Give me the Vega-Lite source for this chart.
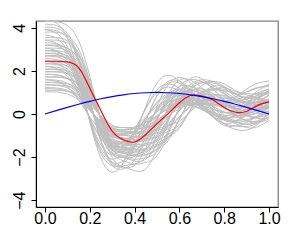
{
"$schema":"https://vega.github.io/schema/vega-lite/v6.json",
"width":242,"height":186,"autosize":"none",
"padding":{"left":36,"top":21,"right":11,"bottom":34},
"config":{"view":{"stroke":"#808080","strokeWidth":1.3},"font":"Liberation Sans"},
"datasets":{
"gray":[
{"c":1,"x":0,"y":4.41},{"c":1,"x":0.05,"y":4.23},{"c":1,"x":0.1,"y":3.51},{"c":1,"x":0.15,"y":1.8},{"c":1,"x":0.2,"y":-0.36},{"c":1,"x":0.25,"y":-2.07},{"c":1,"x":0.3,"y":-2.7},{"c":1,"x":0.35,"y":-2.25},{"c":1,"x":0.4,"y":-1.08},{"c":1,"x":0.45,"y":0.36},{"c":1,"x":0.5,"y":1.44},{"c":1,"x":0.55,"y":1.8},{"c":1,"x":0.6,"y":1.53},{"c":1,"x":0.65,"y":0.99},{"c":1,"x":0.7,"y":0.43},{"c":1,"x":0.75,"y":-0.01},{"c":1,"x":0.8,"y":-0.13},{"c":1,"x":0.85,"y":0.16},{"c":1,"x":0.9,"y":0.65},{"c":1,"x":0.95,"y":1.08},{"c":1,"x":1,"y":1.39},
{"c":2,"x":0,"y":4.17},{"c":2,"x":0.05,"y":4.11},{"c":2,"x":0.1,"y":3.74},{"c":2,"x":0.15,"y":2.64},{"c":2,"x":0.2,"y":0.68},{"c":2,"x":0.25,"y":-1.28},{"c":2,"x":0.3,"y":-2.38},{"c":2,"x":0.35,"y":-2.55},{"c":2,"x":0.4,"y":-2.13},{"c":2,"x":0.45,"y":-1.02},{"c":2,"x":0.5,"y":0.34},{"c":2,"x":0.55,"y":1.36},{"c":2,"x":0.6,"y":1.7},{"c":2,"x":0.65,"y":1.45},{"c":2,"x":0.7,"y":0.82},{"c":2,"x":0.75,"y":0.18},{"c":2,"x":0.8,"y":-0.28},{"c":2,"x":0.85,"y":-0.33},{"c":2,"x":0.9,"y":-0.06},{"c":2,"x":0.95,"y":0.44},{"c":2,"x":1,"y":0.91},
{"c":3,"x":0,"y":3.92},{"c":3,"x":0.05,"y":3.87},{"c":3,"x":0.1,"y":3.52},{"c":3,"x":0.15,"y":2.48},{"c":3,"x":0.2,"y":0.64},{"c":3,"x":0.25,"y":-1.2},{"c":3,"x":0.3,"y":-2.24},{"c":3,"x":0.35,"y":-2.4},{"c":3,"x":0.4,"y":-2.32},{"c":3,"x":0.45,"y":-2.0},{"c":3,"x":0.5,"y":-0.96},{"c":3,"x":0.55,"y":0.32},{"c":3,"x":0.6,"y":1.28},{"c":3,"x":0.65,"y":1.6},{"c":3,"x":0.7,"y":1.51},{"c":3,"x":0.75,"y":1.23},{"c":3,"x":0.8,"y":0.93},{"c":3,"x":0.85,"y":0.61},{"c":3,"x":0.9,"y":0.56},{"c":3,"x":0.95,"y":0.77},{"c":3,"x":1,"y":1.1},
{"c":4,"x":0,"y":3.8},{"c":4,"x":0.05,"y":3.8},{"c":4,"x":0.1,"y":3.64},{"c":4,"x":0.15,"y":3.02},{"c":4,"x":0.2,"y":1.55},{"c":4,"x":0.25,"y":-0.31},{"c":4,"x":0.3,"y":-1.78},{"c":4,"x":0.35,"y":-2.17},{"c":4,"x":0.4,"y":-2.33},{"c":4,"x":0.45,"y":-2.25},{"c":4,"x":0.5,"y":-1.94},{"c":4,"x":0.55,"y":-0.93},{"c":4,"x":0.6,"y":0.31},{"c":4,"x":0.65,"y":1.24},{"c":4,"x":0.7,"y":1.49},{"c":4,"x":0.75,"y":1.18},{"c":4,"x":0.8,"y":0.65},{"c":4,"x":0.85,"y":0.22},{"c":4,"x":0.9,"y":-0.09},{"c":4,"x":0.95,"y":-0.12},{"c":4,"x":1,"y":0.17},
{"c":5,"x":0,"y":3.68},{"c":5,"x":0.05,"y":3.53},{"c":5,"x":0.1,"y":2.93},{"c":5,"x":0.15,"y":1.5},{"c":5,"x":0.2,"y":-0.3},{"c":5,"x":0.25,"y":-1.73},{"c":5,"x":0.3,"y":-2.25},{"c":5,"x":0.35,"y":-2.18},{"c":5,"x":0.4,"y":-1.43},{"c":5,"x":0.45,"y":-0.3},{"c":5,"x":0.5,"y":0.83},{"c":5,"x":0.55,"y":1.43},{"c":5,"x":0.6,"y":1.43},{"c":5,"x":0.65,"y":1.05},{"c":5,"x":0.7,"y":0.6},{"c":5,"x":0.75,"y":0.23},{"c":5,"x":0.8,"y":0.05},{"c":5,"x":0.85,"y":0.15},{"c":5,"x":0.9,"y":0.5},{"c":5,"x":0.95,"y":0.9},{"c":5,"x":1,"y":1.17},
{"c":6,"x":0,"y":3.55},{"c":6,"x":0.05,"y":3.55},{"c":6,"x":0.1,"y":3.41},{"c":6,"x":0.15,"y":2.83},{"c":6,"x":0.2,"y":1.45},{"c":6,"x":0.25,"y":-0.29},{"c":6,"x":0.3,"y":-1.67},{"c":6,"x":0.35,"y":-2.03},{"c":6,"x":0.4,"y":-2.18},{"c":6,"x":0.45,"y":-2.1},{"c":6,"x":0.5,"y":-1.38},{"c":6,"x":0.55,"y":-0.29},{"c":6,"x":0.6,"y":0.8},{"c":6,"x":0.65,"y":1.38},{"c":6,"x":0.7,"y":1.59},{"c":6,"x":0.75,"y":1.51},{"c":6,"x":0.8,"y":1.28},{"c":6,"x":0.85,"y":0.92},{"c":6,"x":0.9,"y":0.74},{"c":6,"x":0.95,"y":0.78},{"c":6,"x":1,"y":0.97},
{"c":7,"x":0,"y":2.94},{"c":7,"x":0.05,"y":2.94},{"c":7,"x":0.1,"y":2.82},{"c":7,"x":0.15,"y":2.34},{"c":7,"x":0.2,"y":1.2},{"c":7,"x":0.25,"y":-0.24},{"c":7,"x":0.3,"y":-1.38},{"c":7,"x":0.35,"y":-1.68},{"c":7,"x":0.4,"y":-1.8},{"c":7,"x":0.45,"y":-1.74},{"c":7,"x":0.5,"y":-1.5},{"c":7,"x":0.55,"y":-1.14},{"c":7,"x":0.6,"y":-0.24},{"c":7,"x":0.65,"y":0.66},{"c":7,"x":0.7,"y":0.99},{"c":7,"x":0.75,"y":0.79},{"c":7,"x":0.8,"y":0.34},{"c":7,"x":0.85,"y":-0.02},{"c":7,"x":0.9,"y":-0.32},{"c":7,"x":0.95,"y":-0.41},{"c":7,"x":1,"y":-0.23},
{"c":8,"x":0,"y":3.31},{"c":8,"x":0.05,"y":3.27},{"c":8,"x":0.1,"y":2.97},{"c":8,"x":0.15,"y":2.09},{"c":8,"x":0.2,"y":0.54},{"c":8,"x":0.25,"y":-1.01},{"c":8,"x":0.3,"y":-1.89},{"c":8,"x":0.35,"y":-2.03},{"c":8,"x":0.4,"y":-1.96},{"c":8,"x":0.45,"y":-1.28},{"c":8,"x":0.5,"y":-0.27},{"c":8,"x":0.55,"y":0.74},{"c":8,"x":0.6,"y":1.28},{"c":8,"x":0.65,"y":1.28},{"c":8,"x":0.7,"y":1.04},{"c":8,"x":0.75,"y":0.75},{"c":8,"x":0.8,"y":0.5},{"c":8,"x":0.85,"y":0.34},{"c":8,"x":0.9,"y":0.44},{"c":8,"x":0.95,"y":0.72},{"c":8,"x":1,"y":1.02},
{"c":9,"x":0,"y":3.19},{"c":9,"x":0.05,"y":3.15},{"c":9,"x":0.1,"y":2.86},{"c":9,"x":0.15,"y":2.02},{"c":9,"x":0.2,"y":0.52},{"c":9,"x":0.25,"y":-0.98},{"c":9,"x":0.3,"y":-1.82},{"c":9,"x":0.35,"y":-1.95},{"c":9,"x":0.4,"y":-1.89},{"c":9,"x":0.45,"y":-1.63},{"c":9,"x":0.5,"y":-0.78},{"c":9,"x":0.55,"y":0.26},{"c":9,"x":0.6,"y":1.04},{"c":9,"x":0.65,"y":1.3},{"c":9,"x":0.7,"y":0.87},{"c":9,"x":0.75,"y":0.16},{"c":9,"x":0.8,"y":-0.45},{"c":9,"x":0.85,"y":-0.71},{"c":9,"x":0.9,"y":-0.75},{"c":9,"x":0.95,"y":-0.46},{"c":9,"x":1,"y":0.05},
{"c":10,"x":0,"y":3.06},{"c":10,"x":0.05,"y":2.94},{"c":10,"x":0.1,"y":2.44},{"c":10,"x":0.15,"y":1.25},{"c":10,"x":0.2,"y":-0.25},{"c":10,"x":0.25,"y":-1.44},{"c":10,"x":0.3,"y":-1.88},{"c":10,"x":0.35,"y":-1.56},{"c":10,"x":0.4,"y":-0.75},{"c":10,"x":0.45,"y":0.25},{"c":10,"x":0.5,"y":1.0},{"c":10,"x":0.55,"y":1.25},{"c":10,"x":0.6,"y":1.06},{"c":10,"x":0.65,"y":0.69},{"c":10,"x":0.7,"y":0.25},{"c":10,"x":0.75,"y":-0.12},{"c":10,"x":0.8,"y":-0.25},{"c":10,"x":0.85,"y":-0.05},{"c":10,"x":0.9,"y":0.29},{"c":10,"x":0.95,"y":0.61},{"c":10,"x":1,"y":0.85},
{"c":11,"x":0,"y":3.43},{"c":11,"x":0.05,"y":3.43},{"c":11,"x":0.1,"y":3.29},{"c":11,"x":0.15,"y":2.73},{"c":11,"x":0.2,"y":1.4},{"c":11,"x":0.25,"y":-0.28},{"c":11,"x":0.3,"y":-1.61},{"c":11,"x":0.35,"y":-1.96},{"c":11,"x":0.4,"y":-2.1},{"c":11,"x":0.45,"y":-2.03},{"c":11,"x":0.5,"y":-1.75},{"c":11,"x":0.55,"y":-0.84},{"c":11,"x":0.6,"y":0.28},{"c":11,"x":0.65,"y":1.12},{"c":11,"x":0.7,"y":1.46},{"c":11,"x":0.75,"y":1.33},{"c":11,"x":0.8,"y":0.97},{"c":11,"x":0.85,"y":0.58},{"c":11,"x":0.9,"y":0.3},{"c":11,"x":0.95,"y":0.24},{"c":11,"x":1,"y":0.42},
{"c":12,"x":0,"y":2.82},{"c":12,"x":0.05,"y":2.78},{"c":12,"x":0.1,"y":2.53},{"c":12,"x":0.15,"y":1.78},{"c":12,"x":0.2,"y":0.46},{"c":12,"x":0.25,"y":-0.86},{"c":12,"x":0.3,"y":-1.61},{"c":12,"x":0.35,"y":-1.73},{"c":12,"x":0.4,"y":-1.44},{"c":12,"x":0.45,"y":-0.69},{"c":12,"x":0.5,"y":0.23},{"c":12,"x":0.55,"y":0.92},{"c":12,"x":0.6,"y":1.15},{"c":12,"x":0.65,"y":0.98},{"c":12,"x":0.7,"y":0.78},{"c":12,"x":0.75,"y":0.66},{"c":12,"x":0.8,"y":0.58},{"c":12,"x":0.85,"y":0.55},{"c":12,"x":0.9,"y":0.73},{"c":12,"x":0.95,"y":0.99},{"c":12,"x":1,"y":1.16},
{"c":13,"x":0,"y":2.7},{"c":13,"x":0.05,"y":2.7},{"c":13,"x":0.1,"y":2.59},{"c":13,"x":0.15,"y":2.15},{"c":13,"x":0.2,"y":1.1},{"c":13,"x":0.25,"y":-0.22},{"c":13,"x":0.3,"y":-1.27},{"c":13,"x":0.35,"y":-1.54},{"c":13,"x":0.4,"y":-1.65},{"c":13,"x":0.45,"y":-1.6},{"c":13,"x":0.5,"y":-1.05},{"c":13,"x":0.55,"y":-0.22},{"c":13,"x":0.6,"y":0.61},{"c":13,"x":0.65,"y":1.05},{"c":13,"x":0.7,"y":0.9},{"c":13,"x":0.75,"y":0.42},{"c":13,"x":0.8,"y":-0.06},{"c":13,"x":0.85,"y":-0.33},{"c":13,"x":0.9,"y":-0.47},{"c":13,"x":0.95,"y":-0.34},{"c":13,"x":1,"y":0.01},
{"c":14,"x":0,"y":2.57},{"c":14,"x":0.05,"y":2.54},{"c":14,"x":0.1,"y":2.31},{"c":14,"x":0.15,"y":1.63},{"c":14,"x":0.2,"y":0.42},{"c":14,"x":0.25,"y":-0.79},{"c":14,"x":0.3,"y":-1.47},{"c":14,"x":0.35,"y":-1.58},{"c":14,"x":0.4,"y":-1.52},{"c":14,"x":0.45,"y":-1.0},{"c":14,"x":0.5,"y":-0.21},{"c":14,"x":0.55,"y":0.58},{"c":14,"x":0.6,"y":1.0},{"c":14,"x":0.65,"y":1.0},{"c":14,"x":0.7,"y":0.77},{"c":14,"x":0.75,"y":0.49},{"c":14,"x":0.8,"y":0.26},{"c":14,"x":0.85,"y":0.13},{"c":14,"x":0.9,"y":0.21},{"c":14,"x":0.95,"y":0.44},{"c":14,"x":1,"y":0.7},
{"c":15,"x":0,"y":2.45},{"c":15,"x":0.05,"y":2.45},{"c":15,"x":0.1,"y":2.35},{"c":15,"x":0.15,"y":1.95},{"c":15,"x":0.2,"y":1.0},{"c":15,"x":0.25,"y":-0.2},{"c":15,"x":0.3,"y":-1.15},{"c":15,"x":0.35,"y":-1.4},{"c":15,"x":0.4,"y":-1.5},{"c":15,"x":0.45,"y":-1.45},{"c":15,"x":0.5,"y":-1.25},{"c":15,"x":0.55,"y":-0.95},{"c":15,"x":0.6,"y":-0.6},{"c":15,"x":0.65,"y":0.2},{"c":15,"x":0.7,"y":0.92},{"c":15,"x":0.75,"y":1.28},{"c":15,"x":0.8,"y":1.25},{"c":15,"x":0.85,"y":0.95},{"c":15,"x":0.9,"y":0.67},{"c":15,"x":0.95,"y":0.43},{"c":15,"x":1,"y":0.32},
{"c":16,"x":0,"y":2.45},{"c":16,"x":0.05,"y":2.35},{"c":16,"x":0.1,"y":1.95},{"c":16,"x":0.15,"y":1.0},{"c":16,"x":0.2,"y":-0.2},{"c":16,"x":0.25,"y":-1.15},{"c":16,"x":0.3,"y":-1.5},{"c":16,"x":0.35,"y":-1.45},{"c":16,"x":0.4,"y":-0.95},{"c":16,"x":0.45,"y":-0.2},{"c":16,"x":0.5,"y":0.55},{"c":16,"x":0.55,"y":0.95},{"c":16,"x":0.6,"y":0.95},{"c":16,"x":0.65,"y":0.7},{"c":16,"x":0.7,"y":0.61},{"c":16,"x":0.75,"y":0.64},{"c":16,"x":0.8,"y":0.73},{"c":16,"x":0.85,"y":0.8},{"c":16,"x":0.9,"y":1.03},{"c":16,"x":0.95,"y":1.23},{"c":16,"x":1,"y":1.27},
{"c":17,"x":0,"y":2.33},{"c":17,"x":0.05,"y":2.33},{"c":17,"x":0.1,"y":2.23},{"c":17,"x":0.15,"y":1.85},{"c":17,"x":0.2,"y":0.95},{"c":17,"x":0.25,"y":-0.19},{"c":17,"x":0.3,"y":-1.09},{"c":17,"x":0.35,"y":-1.33},{"c":17,"x":0.4,"y":-1.43},{"c":17,"x":0.45,"y":-1.38},{"c":17,"x":0.5,"y":-1.19},{"c":17,"x":0.55,"y":-0.57},{"c":17,"x":0.6,"y":0.19},{"c":17,"x":0.65,"y":0.76},{"c":17,"x":0.7,"y":0.74},{"c":17,"x":0.75,"y":0.32},{"c":17,"x":0.8,"y":-0.18},{"c":17,"x":0.85,"y":-0.44},{"c":17,"x":0.9,"y":-0.63},{"c":17,"x":0.95,"y":-0.59},{"c":17,"x":1,"y":-0.3},
{"c":18,"x":0,"y":2.21},{"c":18,"x":0.05,"y":2.18},{"c":18,"x":0.1,"y":1.98},{"c":18,"x":0.15,"y":1.4},{"c":18,"x":0.2,"y":0.36},{"c":18,"x":0.25,"y":-0.68},{"c":18,"x":0.3,"y":-1.26},{"c":18,"x":0.35,"y":-1.35},{"c":18,"x":0.4,"y":-1.31},{"c":18,"x":0.45,"y":-1.13},{"c":18,"x":0.5,"y":-0.54},{"c":18,"x":0.55,"y":0.18},{"c":18,"x":0.6,"y":0.72},{"c":18,"x":0.65,"y":0.9},{"c":18,"x":0.7,"y":0.86},{"c":18,"x":0.75,"y":0.71},{"c":18,"x":0.8,"y":0.54},{"c":18,"x":0.85,"y":0.36},{"c":18,"x":0.9,"y":0.34},{"c":18,"x":0.95,"y":0.45},{"c":18,"x":1,"y":0.63},
{"c":19,"x":0,"y":2.08},{"c":19,"x":0.05,"y":2.06},{"c":19,"x":0.1,"y":1.87},{"c":19,"x":0.15,"y":1.32},{"c":19,"x":0.2,"y":0.34},{"c":19,"x":0.25,"y":-0.64},{"c":19,"x":0.3,"y":-1.19},{"c":19,"x":0.35,"y":-1.28},{"c":19,"x":0.4,"y":-1.06},{"c":19,"x":0.45,"y":-0.51},{"c":19,"x":0.5,"y":0.17},{"c":19,"x":0.55,"y":0.68},{"c":19,"x":0.6,"y":0.85},{"c":19,"x":0.65,"y":0.72},{"c":19,"x":0.7,"y":0.41},{"c":19,"x":0.75,"y":0.09},{"c":19,"x":0.8,"y":-0.14},{"c":19,"x":0.85,"y":-0.17},{"c":19,"x":0.9,"y":-0.03},{"c":19,"x":0.95,"y":0.22},{"c":19,"x":1,"y":0.46},
{"c":20,"x":0,"y":1.96},{"c":20,"x":0.05,"y":1.96},{"c":20,"x":0.1,"y":1.88},{"c":20,"x":0.15,"y":1.56},{"c":20,"x":0.2,"y":0.8},{"c":20,"x":0.25,"y":-0.16},{"c":20,"x":0.3,"y":-0.92},{"c":20,"x":0.35,"y":-1.12},{"c":20,"x":0.4,"y":-1.2},{"c":20,"x":0.45,"y":-1.16},{"c":20,"x":0.5,"y":-0.76},{"c":20,"x":0.55,"y":-0.16},{"c":20,"x":0.6,"y":0.44},{"c":20,"x":0.65,"y":0.76},{"c":20,"x":0.7,"y":0.91},{"c":20,"x":0.75,"y":0.91},{"c":20,"x":0.8,"y":0.82},{"c":20,"x":0.85,"y":0.62},{"c":20,"x":0.9,"y":0.52},{"c":20,"x":0.95,"y":0.53},{"c":20,"x":1,"y":0.61},
{"c":21,"x":0,"y":1.84},{"c":21,"x":0.05,"y":1.82},{"c":21,"x":0.1,"y":1.65},{"c":21,"x":0.15,"y":1.16},{"c":21,"x":0.2,"y":0.3},{"c":21,"x":0.25,"y":-0.56},{"c":21,"x":0.3,"y":-1.05},{"c":21,"x":0.35,"y":-1.13},{"c":21,"x":0.4,"y":-1.09},{"c":21,"x":0.45,"y":-0.71},{"c":21,"x":0.5,"y":-0.15},{"c":21,"x":0.55,"y":0.41},{"c":21,"x":0.6,"y":0.71},{"c":21,"x":0.65,"y":0.71},{"c":21,"x":0.7,"y":0.41},{"c":21,"x":0.75,"y":0.02},{"c":21,"x":0.8,"y":-0.29},{"c":21,"x":0.85,"y":-0.38},{"c":21,"x":0.9,"y":-0.32},{"c":21,"x":0.95,"y":-0.11},{"c":21,"x":1,"y":0.17},
{"c":22,"x":0,"y":1.72},{"c":22,"x":0.05,"y":1.72},{"c":22,"x":0.1,"y":1.65},{"c":22,"x":0.15,"y":1.37},{"c":22,"x":0.2,"y":0.7},{"c":22,"x":0.25,"y":-0.14},{"c":22,"x":0.3,"y":-0.81},{"c":22,"x":0.35,"y":-0.98},{"c":22,"x":0.4,"y":-1.05},{"c":22,"x":0.45,"y":-1.02},{"c":22,"x":0.5,"y":-0.88},{"c":22,"x":0.55,"y":-0.67},{"c":22,"x":0.6,"y":-0.14},{"c":22,"x":0.65,"y":0.39},{"c":22,"x":0.7,"y":0.67},{"c":22,"x":0.75,"y":0.67},{"c":22,"x":0.8,"y":0.49},{"c":22,"x":0.85,"y":0.28},{"c":22,"x":0.9,"y":0.11},{"c":22,"x":0.95,"y":0.02},{"c":22,"x":1,"y":0.07},
{"c":23,"x":0,"y":1.59},{"c":23,"x":0.05,"y":1.53},{"c":23,"x":0.1,"y":1.27},{"c":23,"x":0.15,"y":0.65},{"c":23,"x":0.2,"y":-0.13},{"c":23,"x":0.25,"y":-0.75},{"c":23,"x":0.3,"y":-0.98},{"c":23,"x":0.35,"y":-0.94},{"c":23,"x":0.4,"y":-0.62},{"c":23,"x":0.45,"y":-0.13},{"c":23,"x":0.5,"y":0.36},{"c":23,"x":0.55,"y":0.62},{"c":23,"x":0.6,"y":0.62},{"c":23,"x":0.65,"y":0.46},{"c":23,"x":0.7,"y":0.44},{"c":23,"x":0.75,"y":0.52},{"c":23,"x":0.8,"y":0.62},{"c":23,"x":0.85,"y":0.67},{"c":23,"x":0.9,"y":0.81},{"c":23,"x":0.95,"y":0.93},{"c":23,"x":1,"y":0.93},
{"c":24,"x":0,"y":1.47},{"c":24,"x":0.05,"y":1.45},{"c":24,"x":0.1,"y":1.32},{"c":24,"x":0.15,"y":0.93},{"c":24,"x":0.2,"y":0.24},{"c":24,"x":0.25,"y":-0.45},{"c":24,"x":0.3,"y":-0.84},{"c":24,"x":0.35,"y":-0.9},{"c":24,"x":0.4,"y":-0.87},{"c":24,"x":0.45,"y":-0.75},{"c":24,"x":0.5,"y":-0.36},{"c":24,"x":0.55,"y":0.12},{"c":24,"x":0.6,"y":0.48},{"c":24,"x":0.65,"y":0.6},{"c":24,"x":0.7,"y":0.33},{"c":24,"x":0.75,"y":-0.09},{"c":24,"x":0.8,"y":-0.44},{"c":24,"x":0.85,"y":-0.56},{"c":24,"x":0.9,"y":-0.58},{"c":24,"x":0.95,"y":-0.42},{"c":24,"x":1,"y":-0.14},
{"c":25,"x":0,"y":1.35},{"c":25,"x":0.05,"y":1.35},{"c":25,"x":0.1,"y":1.29},{"c":25,"x":0.15,"y":1.07},{"c":25,"x":0.2,"y":0.55},{"c":25,"x":0.25,"y":-0.11},{"c":25,"x":0.3,"y":-0.63},{"c":25,"x":0.35,"y":-0.77},{"c":25,"x":0.4,"y":-0.83},{"c":25,"x":0.45,"y":-0.8},{"c":25,"x":0.5,"y":-0.69},{"c":25,"x":0.55,"y":-0.52},{"c":25,"x":0.6,"y":-0.33},{"c":25,"x":0.65,"y":0.11},{"c":25,"x":0.7,"y":0.56},{"c":25,"x":0.75,"y":0.83},{"c":25,"x":0.8,"y":0.87},{"c":25,"x":0.85,"y":0.7},{"c":25,"x":0.9,"y":0.55},{"c":25,"x":0.95,"y":0.4},{"c":25,"x":1,"y":0.3},
{"c":26,"x":0,"y":1.23},{"c":26,"x":0.05,"y":1.21},{"c":26,"x":0.1,"y":1.1},{"c":26,"x":0.15,"y":0.78},{"c":26,"x":0.2,"y":0.2},{"c":26,"x":0.25,"y":-0.38},{"c":26,"x":0.3,"y":-0.7},{"c":26,"x":0.35,"y":-0.75},{"c":26,"x":0.4,"y":-0.63},{"c":26,"x":0.45,"y":-0.3},{"c":26,"x":0.5,"y":0.1},{"c":26,"x":0.55,"y":0.4},{"c":26,"x":0.6,"y":0.5},{"c":26,"x":0.65,"y":0.43},{"c":26,"x":0.7,"y":0.25},{"c":26,"x":0.75,"y":0.07},{"c":26,"x":0.8,"y":-0.06},{"c":26,"x":0.85,"y":-0.08},{"c":26,"x":0.9,"y":0.0},{"c":26,"x":0.95,"y":0.15},{"c":26,"x":1,"y":0.28},
{"c":27,"x":0,"y":1.1},{"c":27,"x":0.05,"y":1.1},{"c":27,"x":0.1,"y":1.06},{"c":27,"x":0.15,"y":0.88},{"c":27,"x":0.2,"y":0.45},{"c":27,"x":0.25,"y":-0.09},{"c":27,"x":0.3,"y":-0.52},{"c":27,"x":0.35,"y":-0.63},{"c":27,"x":0.4,"y":-0.68},{"c":27,"x":0.45,"y":-0.65},{"c":27,"x":0.5,"y":-0.43},{"c":27,"x":0.55,"y":-0.09},{"c":27,"x":0.6,"y":0.25},{"c":27,"x":0.65,"y":0.43},{"c":27,"x":0.7,"y":0.49},{"c":27,"x":0.75,"y":0.46},{"c":27,"x":0.8,"y":0.38},{"c":27,"x":0.85,"y":0.27},{"c":27,"x":0.9,"y":0.21},{"c":27,"x":0.95,"y":0.23},{"c":27,"x":1,"y":0.29},
{"c":28,"x":0,"y":1.03},{"c":28,"x":0.05,"y":1.02},{"c":28,"x":0.1,"y":0.92},{"c":28,"x":0.15,"y":0.65},{"c":28,"x":0.2,"y":0.17},{"c":28,"x":0.25,"y":-0.32},{"c":28,"x":0.3,"y":-0.59},{"c":28,"x":0.35,"y":-0.63},{"c":28,"x":0.4,"y":-0.61},{"c":28,"x":0.45,"y":-0.4},{"c":28,"x":0.5,"y":-0.08},{"c":28,"x":0.55,"y":0.23},{"c":28,"x":0.6,"y":0.4},{"c":28,"x":0.65,"y":0.4},{"c":28,"x":0.7,"y":0.2},{"c":28,"x":0.75,"y":-0.04},{"c":28,"x":0.8,"y":-0.24},{"c":28,"x":0.85,"y":-0.29},{"c":28,"x":0.9,"y":-0.26},{"c":28,"x":0.95,"y":-0.13},{"c":28,"x":1,"y":0.04},
{"c":29,"x":0,"y":4.29},{"c":29,"x":0.05,"y":4.29},{"c":29,"x":0.1,"y":4.11},{"c":29,"x":0.15,"y":3.41},{"c":29,"x":0.2,"y":1.75},{"c":29,"x":0.25,"y":-0.35},{"c":29,"x":0.3,"y":-2.01},{"c":29,"x":0.35,"y":-2.45},{"c":29,"x":0.4,"y":-2.63},{"c":29,"x":0.45,"y":-2.54},{"c":29,"x":0.5,"y":-1.66},{"c":29,"x":0.55,"y":-0.35},{"c":29,"x":0.6,"y":0.96},{"c":29,"x":0.65,"y":1.66},{"c":29,"x":0.7,"y":1.63},{"c":29,"x":0.75,"y":1.16},{"c":29,"x":0.8,"y":0.6},{"c":29,"x":0.85,"y":0.16},{"c":29,"x":0.9,"y":-0.05},{"c":29,"x":0.95,"y":0.09},{"c":29,"x":1,"y":0.51},
{"c":30,"x":0,"y":2.94},{"c":30,"x":0.05,"y":2.9},{"c":30,"x":0.1,"y":2.64},{"c":30,"x":0.15,"y":1.86},{"c":30,"x":0.2,"y":0.48},{"c":30,"x":0.25,"y":-0.9},{"c":30,"x":0.3,"y":-1.68},{"c":30,"x":0.35,"y":-1.8},{"c":30,"x":0.4,"y":-1.74},{"c":30,"x":0.45,"y":-1.14},{"c":30,"x":0.5,"y":-0.24},{"c":30,"x":0.55,"y":0.66},{"c":30,"x":0.6,"y":1.14},{"c":30,"x":0.65,"y":1.14},{"c":30,"x":0.7,"y":1.11},{"c":30,"x":0.75,"y":1.11},{"c":30,"x":0.8,"y":1.08},{"c":30,"x":0.85,"y":0.94},{"c":30,"x":0.9,"y":1.02},{"c":30,"x":0.95,"y":1.21},{"c":30,"x":1,"y":1.35},
{"c":31,"x":0,"y":4.04},{"c":31,"x":0.05,"y":3.99},{"c":31,"x":0.1,"y":3.63},{"c":31,"x":0.15,"y":2.56},{"c":31,"x":0.2,"y":0.66},{"c":31,"x":0.25,"y":-1.24},{"c":31,"x":0.3,"y":-2.31},{"c":31,"x":0.35,"y":-2.48},{"c":31,"x":0.4,"y":-2.39},{"c":31,"x":0.45,"y":-1.57},{"c":31,"x":0.5,"y":-0.33},{"c":31,"x":0.55,"y":0.91},{"c":31,"x":0.6,"y":1.57},{"c":31,"x":0.65,"y":1.57},{"c":31,"x":0.7,"y":1.22},{"c":31,"x":0.75,"y":0.8},{"c":31,"x":0.8,"y":0.45},{"c":31,"x":0.85,"y":0.25},{"c":31,"x":0.9,"y":0.37},{"c":31,"x":0.95,"y":0.72},{"c":31,"x":1,"y":1.13},
{"c":32,"x":0,"y":3.19},{"c":32,"x":0.05,"y":3.19},{"c":32,"x":0.1,"y":3.06},{"c":32,"x":0.15,"y":2.54},{"c":32,"x":0.2,"y":1.3},{"c":32,"x":0.25,"y":-0.26},{"c":32,"x":0.3,"y":-1.5},{"c":32,"x":0.35,"y":-1.82},{"c":32,"x":0.4,"y":-1.95},{"c":32,"x":0.45,"y":-1.89},{"c":32,"x":0.5,"y":-1.63},{"c":32,"x":0.55,"y":-1.24},{"c":32,"x":0.6,"y":-0.26},{"c":32,"x":0.65,"y":0.72},{"c":32,"x":0.7,"y":1.33},{"c":32,"x":0.75,"y":1.45},{"c":32,"x":0.8,"y":1.21},{"c":32,"x":0.85,"y":0.82},{"c":32,"x":0.9,"y":0.5},{"c":32,"x":0.95,"y":0.31},{"c":32,"x":1,"y":0.34},
{"c":33,"x":0,"y":3.43},{"c":33,"x":0.05,"y":3.29},{"c":33,"x":0.1,"y":2.73},{"c":33,"x":0.15,"y":1.4},{"c":33,"x":0.2,"y":-0.28},{"c":33,"x":0.25,"y":-1.61},{"c":33,"x":0.3,"y":-2.1},{"c":33,"x":0.35,"y":-1.75},{"c":33,"x":0.4,"y":-0.84},{"c":33,"x":0.45,"y":0.28},{"c":33,"x":0.5,"y":1.12},{"c":33,"x":0.55,"y":1.4},{"c":33,"x":0.6,"y":1.19},{"c":33,"x":0.65,"y":0.77},{"c":33,"x":0.7,"y":0.53},{"c":33,"x":0.75,"y":0.45},{"c":33,"x":0.8,"y":0.56},{"c":33,"x":0.85,"y":0.78},{"c":33,"x":0.9,"y":1.16},{"c":33,"x":0.95,"y":1.43},{"c":33,"x":1,"y":1.54},
{"c":34,"x":0,"y":3.19},{"c":34,"x":0.05,"y":3.19},{"c":34,"x":0.1,"y":3.06},{"c":34,"x":0.15,"y":2.54},{"c":34,"x":0.2,"y":1.3},{"c":34,"x":0.25,"y":-0.26},{"c":34,"x":0.3,"y":-1.5},{"c":34,"x":0.35,"y":-1.82},{"c":34,"x":0.4,"y":-1.95},{"c":34,"x":0.45,"y":-1.89},{"c":34,"x":0.5,"y":-1.63},{"c":34,"x":0.55,"y":-0.78},{"c":34,"x":0.6,"y":0.26},{"c":34,"x":0.65,"y":1.04},{"c":34,"x":0.7,"y":1.18},{"c":34,"x":0.75,"y":0.83},{"c":34,"x":0.8,"y":0.32},{"c":34,"x":0.85,"y":-0.05},{"c":34,"x":0.9,"y":-0.31},{"c":34,"x":0.95,"y":-0.31},{"c":34,"x":1,"y":-0.02},
{"c":35,"x":0,"y":3.06},{"c":35,"x":0.05,"y":3.06},{"c":35,"x":0.1,"y":2.94},{"c":35,"x":0.15,"y":2.44},{"c":35,"x":0.2,"y":1.25},{"c":35,"x":0.25,"y":-0.25},{"c":35,"x":0.3,"y":-1.44},{"c":35,"x":0.35,"y":-1.75},{"c":35,"x":0.4,"y":-1.88},{"c":35,"x":0.45,"y":-1.81},{"c":35,"x":0.5,"y":-1.19},{"c":35,"x":0.55,"y":-0.25},{"c":35,"x":0.6,"y":0.69},{"c":35,"x":0.65,"y":1.19},{"c":35,"x":0.7,"y":1.46},{"c":35,"x":0.75,"y":1.51},{"c":35,"x":0.8,"y":1.4},{"c":35,"x":0.85,"y":1.09},{"c":35,"x":0.9,"y":0.94},{"c":35,"x":0.95,"y":0.94},{"c":35,"x":1,"y":1.04},
{"c":36,"x":0,"y":2.7},{"c":36,"x":0.05,"y":2.66},{"c":36,"x":0.1,"y":2.42},{"c":36,"x":0.15,"y":1.71},{"c":36,"x":0.2,"y":0.44},{"c":36,"x":0.25,"y":-0.83},{"c":36,"x":0.3,"y":-1.54},{"c":36,"x":0.35,"y":-1.65},{"c":36,"x":0.4,"y":-1.6},{"c":36,"x":0.45,"y":-1.38},{"c":36,"x":0.5,"y":-0.66},{"c":36,"x":0.55,"y":0.22},{"c":36,"x":0.6,"y":0.88},{"c":36,"x":0.65,"y":1.1},{"c":36,"x":0.7,"y":0.94},{"c":36,"x":0.75,"y":0.61},{"c":36,"x":0.8,"y":0.3},{"c":36,"x":0.85,"y":0.08},{"c":36,"x":0.9,"y":0.04},{"c":36,"x":0.95,"y":0.22},{"c":36,"x":1,"y":0.52},
{"c":37,"x":0,"y":2.45},{"c":37,"x":0.05,"y":2.42},{"c":37,"x":0.1,"y":2.2},{"c":37,"x":0.15,"y":1.55},{"c":37,"x":0.2,"y":0.4},{"c":37,"x":0.25,"y":-0.75},{"c":37,"x":0.3,"y":-1.4},{"c":37,"x":0.35,"y":-1.5},{"c":37,"x":0.4,"y":-1.25},{"c":37,"x":0.45,"y":-0.6},{"c":37,"x":0.5,"y":0.2},{"c":37,"x":0.55,"y":0.8},{"c":37,"x":0.6,"y":1.0},{"c":37,"x":0.65,"y":0.85},{"c":37,"x":0.7,"y":0.37},{"c":37,"x":0.75,"y":-0.15},{"c":37,"x":0.8,"y":-0.53},{"c":37,"x":0.85,"y":-0.56},{"c":37,"x":0.9,"y":-0.4},{"c":37,"x":0.95,"y":-0.07},{"c":37,"x":1,"y":0.28},
{"c":38,"x":0,"y":2.33},{"c":38,"x":0.05,"y":2.3},{"c":38,"x":0.1,"y":2.09},{"c":38,"x":0.15,"y":1.47},{"c":38,"x":0.2,"y":0.38},{"c":38,"x":0.25,"y":-0.71},{"c":38,"x":0.3,"y":-1.33},{"c":38,"x":0.35,"y":-1.43},{"c":38,"x":0.4,"y":-1.38},{"c":38,"x":0.45,"y":-0.9},{"c":38,"x":0.5,"y":-0.19},{"c":38,"x":0.55,"y":0.52},{"c":38,"x":0.6,"y":0.9},{"c":38,"x":0.65,"y":0.9},{"c":38,"x":0.7,"y":0.85},{"c":38,"x":0.75,"y":0.8},{"c":38,"x":0.8,"y":0.74},{"c":38,"x":0.85,"y":0.63},{"c":38,"x":0.9,"y":0.7},{"c":38,"x":0.95,"y":0.85},{"c":38,"x":1,"y":0.99},
{"c":39,"x":0,"y":2.21},{"c":39,"x":0.05,"y":2.12},{"c":39,"x":0.1,"y":1.76},{"c":39,"x":0.15,"y":0.9},{"c":39,"x":0.2,"y":-0.18},{"c":39,"x":0.25,"y":-1.04},{"c":39,"x":0.3,"y":-1.35},{"c":39,"x":0.35,"y":-1.31},{"c":39,"x":0.4,"y":-0.86},{"c":39,"x":0.45,"y":-0.18},{"c":39,"x":0.5,"y":0.5},{"c":39,"x":0.55,"y":0.86},{"c":39,"x":0.6,"y":0.86},{"c":39,"x":0.65,"y":0.63},{"c":39,"x":0.7,"y":0.3},{"c":39,"x":0.75,"y":0.0},{"c":39,"x":0.8,"y":-0.17},{"c":39,"x":0.85,"y":-0.11},{"c":39,"x":0.9,"y":0.1},{"c":39,"x":0.95,"y":0.36},{"c":39,"x":1,"y":0.56},
{"c":40,"x":0,"y":2.08},{"c":40,"x":0.05,"y":2.08},{"c":40,"x":0.1,"y":2.0},{"c":40,"x":0.15,"y":1.66},{"c":40,"x":0.2,"y":0.85},{"c":40,"x":0.25,"y":-0.17},{"c":40,"x":0.3,"y":-0.98},{"c":40,"x":0.35,"y":-1.19},{"c":40,"x":0.4,"y":-1.28},{"c":40,"x":0.45,"y":-1.23},{"c":40,"x":0.5,"y":-1.06},{"c":40,"x":0.55,"y":-0.81},{"c":40,"x":0.6,"y":-0.51},{"c":40,"x":0.65,"y":0.17},{"c":40,"x":0.7,"y":0.59},{"c":40,"x":0.75,"y":0.64},{"c":40,"x":0.8,"y":0.42},{"c":40,"x":0.85,"y":0.17},{"c":40,"x":0.9,"y":-0.07},{"c":40,"x":0.95,"y":-0.21},{"c":40,"x":1,"y":-0.18},
{"c":41,"x":0,"y":1.96},{"c":41,"x":0.05,"y":1.96},{"c":41,"x":0.1,"y":1.88},{"c":41,"x":0.15,"y":1.56},{"c":41,"x":0.2,"y":0.8},{"c":41,"x":0.25,"y":-0.16},{"c":41,"x":0.3,"y":-0.92},{"c":41,"x":0.35,"y":-1.12},{"c":41,"x":0.4,"y":-1.2},{"c":41,"x":0.45,"y":-1.16},{"c":41,"x":0.5,"y":-1.0},{"c":41,"x":0.55,"y":-0.48},{"c":41,"x":0.6,"y":0.16},{"c":41,"x":0.65,"y":0.64},{"c":41,"x":0.7,"y":1.01},{"c":41,"x":0.75,"y":1.17},{"c":41,"x":0.8,"y":1.14},{"c":41,"x":0.85,"y":0.92},{"c":41,"x":0.9,"y":0.76},{"c":41,"x":0.95,"y":0.66},{"c":41,"x":1,"y":0.65},
{"c":42,"x":0,"y":1.84},{"c":42,"x":0.05,"y":1.82},{"c":42,"x":0.1,"y":1.65},{"c":42,"x":0.15,"y":1.16},{"c":42,"x":0.2,"y":0.3},{"c":42,"x":0.25,"y":-0.56},{"c":42,"x":0.3,"y":-1.05},{"c":42,"x":0.35,"y":-1.13},{"c":42,"x":0.4,"y":-1.09},{"c":42,"x":0.45,"y":-0.94},{"c":42,"x":0.5,"y":-0.45},{"c":42,"x":0.55,"y":0.15},{"c":42,"x":0.6,"y":0.6},{"c":42,"x":0.65,"y":0.75},{"c":42,"x":0.7,"y":0.61},{"c":42,"x":0.75,"y":0.34},{"c":42,"x":0.8,"y":0.1},{"c":42,"x":0.85,"y":-0.05},{"c":42,"x":0.9,"y":-0.07},{"c":42,"x":0.95,"y":0.06},{"c":42,"x":1,"y":0.28},
{"c":43,"x":0,"y":1.72},{"c":43,"x":0.05,"y":1.72},{"c":43,"x":0.1,"y":1.65},{"c":43,"x":0.15,"y":1.37},{"c":43,"x":0.2,"y":0.7},{"c":43,"x":0.25,"y":-0.14},{"c":43,"x":0.3,"y":-0.81},{"c":43,"x":0.35,"y":-0.98},{"c":43,"x":0.4,"y":-1.05},{"c":43,"x":0.45,"y":-1.02},{"c":43,"x":0.5,"y":-0.67},{"c":43,"x":0.55,"y":-0.14},{"c":43,"x":0.6,"y":0.39},{"c":43,"x":0.65,"y":0.67},{"c":43,"x":0.7,"y":0.52},{"c":43,"x":0.75,"y":0.14},{"c":43,"x":0.8,"y":-0.22},{"c":43,"x":0.85,"y":-0.39},{"c":43,"x":0.9,"y":-0.48},{"c":43,"x":0.95,"y":-0.38},{"c":43,"x":1,"y":-0.12},
{"c":44,"x":0,"y":1.59},{"c":44,"x":0.05,"y":1.57},{"c":44,"x":0.1,"y":1.43},{"c":44,"x":0.15,"y":1.01},{"c":44,"x":0.2,"y":0.26},{"c":44,"x":0.25,"y":-0.49},{"c":44,"x":0.3,"y":-0.91},{"c":44,"x":0.35,"y":-0.98},{"c":44,"x":0.4,"y":-0.81},{"c":44,"x":0.45,"y":-0.39},{"c":44,"x":0.5,"y":0.13},{"c":44,"x":0.55,"y":0.52},{"c":44,"x":0.6,"y":0.65},{"c":44,"x":0.65,"y":0.55},{"c":44,"x":0.7,"y":0.45},{"c":44,"x":0.75,"y":0.39},{"c":44,"x":0.8,"y":0.35},{"c":44,"x":0.85,"y":0.33},{"c":44,"x":0.9,"y":0.43},{"c":44,"x":0.95,"y":0.58},{"c":44,"x":1,"y":0.67},
{"c":45,"x":0,"y":1.47},{"c":45,"x":0.05,"y":1.47},{"c":45,"x":0.1,"y":1.41},{"c":45,"x":0.15,"y":1.17},{"c":45,"x":0.2,"y":0.6},{"c":45,"x":0.25,"y":-0.12},{"c":45,"x":0.3,"y":-0.69},{"c":45,"x":0.35,"y":-0.84},{"c":45,"x":0.4,"y":-0.9},{"c":45,"x":0.45,"y":-0.87},{"c":45,"x":0.5,"y":-0.75},{"c":45,"x":0.55,"y":-0.57},{"c":45,"x":0.6,"y":-0.12},{"c":45,"x":0.65,"y":0.33},{"c":45,"x":0.7,"y":0.81},{"c":45,"x":0.75,"y":1.13},{"c":45,"x":0.8,"y":1.22},{"c":45,"x":0.85,"y":1.04},{"c":45,"x":0.9,"y":0.89},{"c":45,"x":0.95,"y":0.74},{"c":45,"x":1,"y":0.62},
{"c":46,"x":0,"y":1.35},{"c":46,"x":0.05,"y":1.33},{"c":46,"x":0.1,"y":1.21},{"c":46,"x":0.15,"y":0.85},{"c":46,"x":0.2,"y":0.22},{"c":46,"x":0.25,"y":-0.41},{"c":46,"x":0.3,"y":-0.77},{"c":46,"x":0.35,"y":-0.83},{"c":46,"x":0.4,"y":-0.8},{"c":46,"x":0.45,"y":-0.52},{"c":46,"x":0.5,"y":-0.11},{"c":46,"x":0.55,"y":0.3},{"c":46,"x":0.6,"y":0.52},{"c":46,"x":0.65,"y":0.52},{"c":46,"x":0.7,"y":0.39},{"c":46,"x":0.75,"y":0.22},{"c":46,"x":0.8,"y":0.08},{"c":46,"x":0.85,"y":0.02},{"c":46,"x":0.9,"y":0.06},{"c":46,"x":0.95,"y":0.18},{"c":46,"x":1,"y":0.33},
{"c":47,"x":0,"y":2.7},{"c":47,"x":0.05,"y":2.7},{"c":47,"x":0.1,"y":2.59},{"c":47,"x":0.15,"y":2.15},{"c":47,"x":0.2,"y":1.1},{"c":47,"x":0.25,"y":-0.22},{"c":47,"x":0.3,"y":-1.27},{"c":47,"x":0.35,"y":-1.54},{"c":47,"x":0.4,"y":-1.65},{"c":47,"x":0.45,"y":-1.6},{"c":47,"x":0.5,"y":-1.38},{"c":47,"x":0.55,"y":-1.05},{"c":47,"x":0.6,"y":-0.66},{"c":47,"x":0.65,"y":0.22},{"c":47,"x":0.7,"y":0.91},{"c":47,"x":0.75,"y":1.17},{"c":47,"x":0.8,"y":1.04},{"c":47,"x":0.85,"y":0.71},{"c":47,"x":0.9,"y":0.4},{"c":47,"x":0.95,"y":0.17},{"c":47,"x":1,"y":0.11},
{"c":48,"x":0,"y":3.92},{"c":48,"x":0.05,"y":3.76},{"c":48,"x":0.1,"y":3.12},{"c":48,"x":0.15,"y":1.6},{"c":48,"x":0.2,"y":-0.32},{"c":48,"x":0.25,"y":-1.84},{"c":48,"x":0.3,"y":-2.4},{"c":48,"x":0.35,"y":-2.32},{"c":48,"x":0.4,"y":-1.52},{"c":48,"x":0.45,"y":-0.32},{"c":48,"x":0.5,"y":0.88},{"c":48,"x":0.55,"y":1.52},{"c":48,"x":0.6,"y":1.52},{"c":48,"x":0.65,"y":1.12},{"c":48,"x":0.7,"y":0.49},{"c":48,"x":0.75,"y":-0.11},{"c":48,"x":0.8,"y":-0.45},{"c":48,"x":0.85,"y":-0.34},{"c":48,"x":0.9,"y":0.03},{"c":48,"x":0.95,"y":0.51},{"c":48,"x":1,"y":0.9},
{"c":49,"x":0,"y":2.82},{"c":49,"x":0.05,"y":2.82},{"c":49,"x":0.1,"y":2.7},{"c":49,"x":0.15,"y":2.24},{"c":49,"x":0.2,"y":1.15},{"c":49,"x":0.25,"y":-0.23},{"c":49,"x":0.3,"y":-1.32},{"c":49,"x":0.35,"y":-1.61},{"c":49,"x":0.4,"y":-1.73},{"c":49,"x":0.45,"y":-1.67},{"c":49,"x":0.5,"y":-1.44},{"c":49,"x":0.55,"y":-1.09},{"c":49,"x":0.6,"y":-0.23},{"c":49,"x":0.65,"y":0.63},{"c":49,"x":0.7,"y":1.03},{"c":49,"x":0.75,"y":0.95},{"c":49,"x":0.8,"y":0.61},{"c":49,"x":0.85,"y":0.26},{"c":49,"x":0.9,"y":-0.03},{"c":49,"x":0.95,"y":-0.15},{"c":49,"x":1,"y":-0.02},
{"c":50,"x":0,"y":1.18},{"c":50,"x":0.05,"y":1.16},{"c":50,"x":0.1,"y":1.06},{"c":50,"x":0.15,"y":0.74},{"c":50,"x":0.2,"y":0.19},{"c":50,"x":0.25,"y":-0.36},{"c":50,"x":0.3,"y":-0.67},{"c":50,"x":0.35,"y":-0.72},{"c":50,"x":0.4,"y":-0.7},{"c":50,"x":0.45,"y":-0.6},{"c":50,"x":0.5,"y":-0.29},{"c":50,"x":0.55,"y":0.1},{"c":50,"x":0.6,"y":0.38},{"c":50,"x":0.65,"y":0.48},{"c":50,"x":0.7,"y":0.56},{"c":50,"x":0.75,"y":0.61},{"c":50,"x":0.8,"y":0.63},{"c":50,"x":0.85,"y":0.53},{"c":50,"x":0.9,"y":0.52},{"c":50,"x":0.95,"y":0.55},{"c":50,"x":1,"y":0.58}
],
"lines":[
{"s":"mean","x":0,"y":2.45},{"s":"mean","x":0.05,"y":2.45},{"s":"mean","x":0.1,"y":2.42},{"s":"mean","x":0.15,"y":2.15},{"s":"mean","x":0.2,"y":1.2},{"s":"mean","x":0.25,"y":0.15},{"s":"mean","x":0.3,"y":-0.8},{"s":"mean","x":0.35,"y":-1.2},{"s":"mean","x":0.4,"y":-1.3},{"s":"mean","x":0.45,"y":-0.95},{"s":"mean","x":0.5,"y":-0.45},{"s":"mean","x":0.55,"y":0.02},{"s":"mean","x":0.6,"y":0.52},{"s":"mean","x":0.65,"y":0.86},{"s":"mean","x":0.7,"y":0.83},{"s":"mean","x":0.75,"y":0.65},{"s":"mean","x":0.8,"y":0.3},{"s":"mean","x":0.85,"y":0.08},{"s":"mean","x":0.9,"y":0.13},{"s":"mean","x":0.95,"y":0.4},{"s":"mean","x":1,"y":0.56},
{"s":"sine","x":0,"y":0},{"s":"sine","x":0.05,"y":0.156},{"s":"sine","x":0.1,"y":0.309},{"s":"sine","x":0.15,"y":0.454},{"s":"sine","x":0.2,"y":0.588},{"s":"sine","x":0.25,"y":0.707},{"s":"sine","x":0.3,"y":0.809},{"s":"sine","x":0.35,"y":0.891},{"s":"sine","x":0.4,"y":0.951},{"s":"sine","x":0.45,"y":0.988},{"s":"sine","x":0.5,"y":1},{"s":"sine","x":0.55,"y":0.988},{"s":"sine","x":0.6,"y":0.951},{"s":"sine","x":0.65,"y":0.891},{"s":"sine","x":0.7,"y":0.809},{"s":"sine","x":0.75,"y":0.707},{"s":"sine","x":0.8,"y":0.588},{"s":"sine","x":0.85,"y":0.454},{"s":"sine","x":0.9,"y":0.309},{"s":"sine","x":0.95,"y":0.156},{"s":"sine","x":1,"y":0}
]},
"encoding":{
"x":{"field":"x","type":"quantitative","scale":{"domain":[-0.04,1.04],"nice":false,"zero":false},
"axis":{"values":[0,0.2,0.4,0.6,0.8,1],"format":".1f","title":null,"grid":false,"domainColor":"black","tickColor":"black","tickSize":5,"labelFontSize":16,"labelColor":"black","labelPadding":-2,"labelFlush":false,"labelOverlap":false,"labelFont":"Liberation Sans"}},
"y":{"field":"y","type":"quantitative","scale":{"domain":[-4.32,4.32],"nice":false,"zero":false},
"axis":{"values":[-4,-2,0,2,4],"title":null,"grid":false,"domainColor":"black","tickColor":"black","tickSize":5,"labelFontSize":16,"labelColor":"black","labelAngle":-90,"labelAlign":"center","labelBaseline":"bottom","labelPadding":4,"labelFlush":false,"labelOverlap":false,"labelFont":"Liberation Sans"}}
},
"layer":[
{"data":{"name":"gray"},"mark":{"type":"line","color":"#BEBEBE","strokeWidth":1,"interpolate":"natural","clip":true},"encoding":{"detail":{"field":"c","type":"nominal"}}},
{"data":{"name":"lines"},"mark":{"type":"line","strokeWidth":1.2,"interpolate":"natural","clip":true},"encoding":{"color":{"field":"s","type":"nominal","scale":{"domain":["mean","sine"],"range":["#FF0000","#0000FF"]},"legend":null}}}
]
}
